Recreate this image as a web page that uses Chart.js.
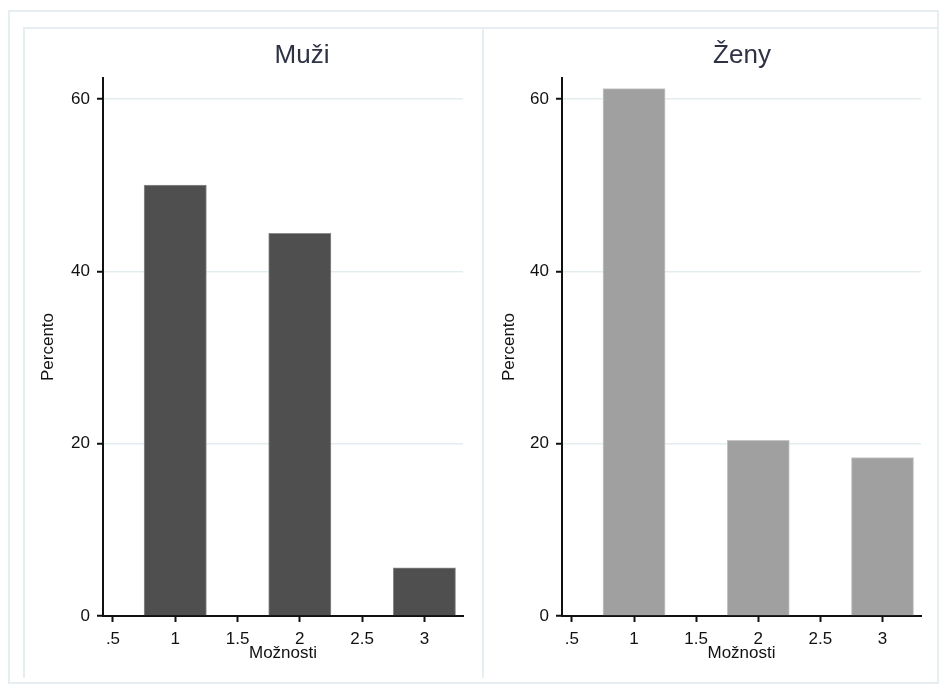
<!DOCTYPE html>
<html>
<head>
<meta charset="utf-8">
<script src="https://cdn.jsdelivr.net/npm/chart.js@4/dist/chart.umd.min.js"></script>
<style>
    body { margin: 0; background: #fff; font-family: "Liberation Sans", Arial, sans-serif; }
    .line { position: absolute; background: #e6eef1; }
    canvas { position: absolute; }
</style>
</head>
<body>
<!-- frames -->
<div class="line" style="left:8px;top:10px;width:931px;height:2px"></div>
<div class="line" style="left:8px;top:10px;width:2px;height:674px"></div>
<div class="line" style="left:24px;top:27px;width:915px;height:2px"></div>
<div class="line" style="left:23px;top:27px;width:2px;height:651px"></div>
<div class="line" style="left:482px;top:27px;width:2px;height:651px"></div>
<div class="line" style="left:937px;top:10px;width:2px;height:674px"></div>
<div class="line" style="left:8px;top:682px;width:931px;height:2px"></div>

<canvas id="muziChart" width="458" height="649" style="left:25px;top:29px"></canvas>
<canvas id="zenyChart" width="453" height="649" style="left:484px;top:29px"></canvas>

<script>
// categories (Možnosti) and percentages per group
const categories = [1, 2, 3];
const muziValues = [50.0, 44.4, 5.6];
const zenyValues = [61.2, 20.4, 18.4];
const xTicks = [0.5, 1, 1.5, 2, 2.5, 3];
const xTickLabels = ['.5', '1', '1.5', '2', '2.5', '3'];
const yTicks = [0, 20, 40, 60];
const yTickLabels = ['0', '20', '40', '60'];

const FONT = '"Liberation Sans", Arial, sans-serif';

// simple title drawn at a fixed spot over each panel
const panelTitle = {
    id: 'panelTitle',
    afterDraw(chart, args, opts) {
        const ctx = chart.ctx;
        ctx.save();
        ctx.font = `${opts.size}px ${FONT}`;
        ctx.fillStyle = '#2e3244';
        ctx.textAlign = 'center';
        ctx.textBaseline = 'alphabetic';
        ctx.fillText(opts.text, opts.x, opts.y);
        ctx.restore();
    }
};

function makePanel(id, title, values, color, edge, cfg) {
    const ctx = document.getElementById(id).getContext('2d');
    return new Chart(ctx, {
        type: 'bar',
        data: {
            datasets: [{
                label: title,
                data: categories.map((c, i) => ({ x: c, y: values[i] })),
                backgroundColor: color,
                borderColor: edge,
                borderWidth: 1,
                barPercentage: 1,
                categoryPercentage: 1
            }]
        },
        plugins: [panelTitle],
        options: {
            responsive: false,
            animation: false,
            layout: { padding: { top: 49, right: cfg.padRight, bottom: 0, left: 0 } },
            plugins: {
                legend: { display: false },
                tooltip: { enabled: false },
                panelTitle: { text: title, x: cfg.titleX, y: 34, size: 26 }
            },
            scales: {
                x: {
                    type: 'linear',
                    min: 0.42,
                    max: 3.31,
                    offset: false,
                    afterBuildTicks: s => { s.ticks = xTicks.map(v => ({ value: v })); },
                    afterFit: s => { s.height = 62; },
                    border: { color: '#111', width: 2 },
                    grid: { offset: false, drawOnChartArea: false, drawTicks: true, tickLength: 6, tickColor: '#111', tickWidth: 2 },
                    ticks: {
                        padding: 7,
                        color: '#111',
                        font: { family: FONT, size: 17 },
                        maxRotation: 0,
                        autoSkip: false,
                        callback: (v, i) => xTickLabels[i]
                    },
                    title: {
                        display: true,
                        text: 'Možnosti',
                        color: '#111',
                        font: { family: FONT, size: 17 },
                        padding: { top: 0, bottom: 14 }
                    }
                },
                y: {
                    min: 0,
                    max: 62.44,
                    afterBuildTicks: s => { s.ticks = yTicks.map(v => ({ value: v })); },
                    afterFit: s => { s.width = cfg.axisWidth; },
                    border: { color: '#111', width: 2 },
                    grid: {
                        color: c => (c.tick && c.tick.value === 0 ? 'rgba(0,0,0,0)' : '#e3edf0'),
                        lineWidth: 1.5,
                        tickLength: 6,
                        tickColor: '#111',
                        tickWidth: 2
                    },
                    ticks: {
                        padding: 7,
                        color: '#111',
                        font: { family: FONT, size: 17 },
                        autoSkip: false,
                        callback: (v, i) => yTickLabels[i]
                    },
                    title: {
                        display: true,
                        text: 'Percento',
                        color: '#111',
                        font: { family: FONT, size: 17 },
                        padding: { top: cfg.yTitlePad, bottom: 0 }
                    }
                }
            }
        }
    });
}

makePanel('muziChart', 'Muži', muziValues, '#4f4f4f', '#8c8c8c',
    { padRight: 20, axisWidth: 78, titleX: 277, yTitlePad: 13 });
makePanel('zenyChart', 'Ženy', zenyValues, '#a0a0a0', '#c6c6c6',
    { padRight: 16, axisWidth: 78, titleX: 258, yTitlePad: 15 });
</script>
</body>
</html>
